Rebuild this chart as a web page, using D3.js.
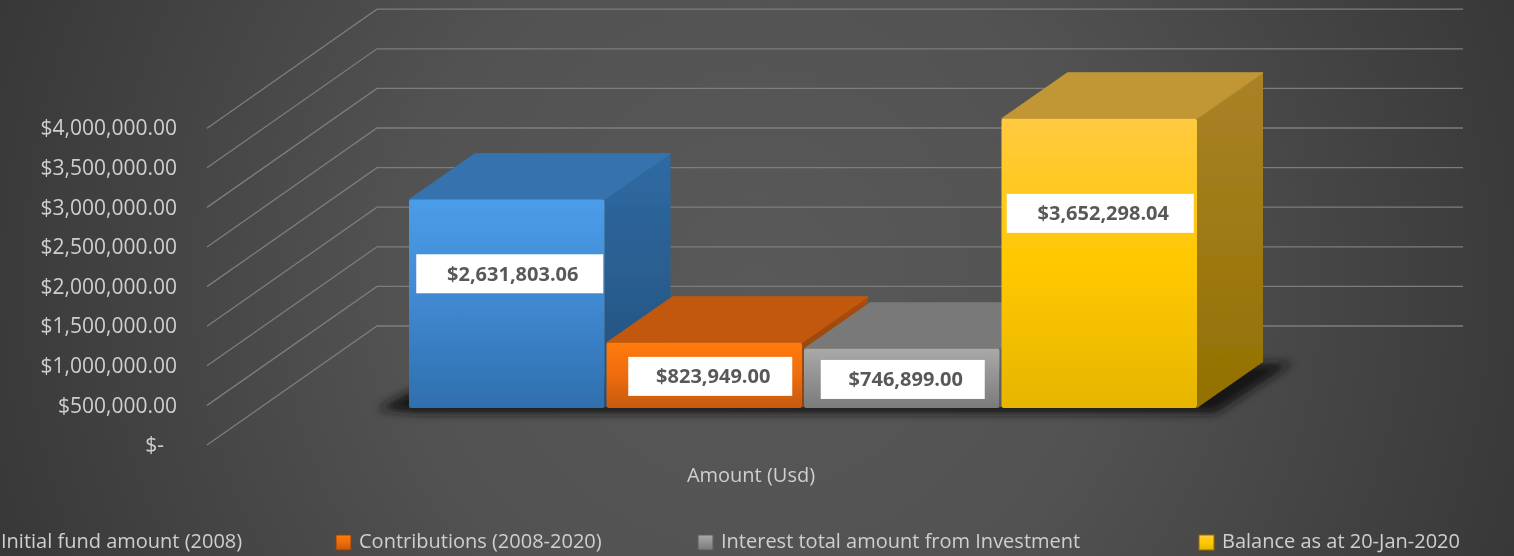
<!DOCTYPE html>
<html>
<head>
<meta charset="utf-8">
<script src="https://cdn.jsdelivr.net/npm/d3@7"></script>
<style>
  html, body { margin: 0; padding: 0; background: #444; overflow: hidden; }
  svg { display: block; }
  text { font-family: "Open Sans", sans-serif; }
</style>
</head>
<body>
<main></main>
<script>
// Datos
const categories = ["Initial fund amount (2008)", "Contributions (2008-2020)", "Interest total amount from Investment", "Balance as at 20-Jan-2020"];
const values = [2631803.06, 823949.00, 746899.00, 3652298.04];
const tickValues = [0, 500000, 1000000, 1500000, 2000000, 2500000, 3000000, 3500000, 4000000];
const tickLabels = ["$-", "$500,000.00", "$1,000,000.00", "$1,500,000.00", "$2,000,000.00", "$2,500,000.00", "$3,000,000.00", "$3,500,000.00", "$4,000,000.00"];
const axisTitle = "Amount (Usd)";

const [w, h] = [1514, 556];
const formato = d3.format("$,.2f");

// Colores de cada barra: frente (arriba, medio, abajo), tapa, lado (arriba, abajo)
const caras = [
  { f: ["#4a9de9", "#4088d0", "#2f6fae"], top: "#3672ae", s: ["#2f6aa3", "#23507a"] },
  { f: ["#ff7b10", "#ee6c0c", "#c55a09"], top: "#c1590b", s: ["#a84d08", "#8f4207"] },
  { f: ["#a9a9a9", "#929292", "#7b7b7b"], top: "#797979", s: ["#6a6a6a", "#5c5c5c"] },
  { f: ["#ffca40", "#ffc800", "#e6b500"], top: "#c19736", s: ["#a98227", "#937100"] }
];

// Colocación de las etiquetas respecto al centro de cada barra
const etiquetas = [
  { dx: 3, dy: -30, w: 187 },
  { dx: 6, dy: 1, w: 164 },
  { dx: 1, dy: 1, w: 164 },
  { dx: 1, dy: -50, w: 187 }
];

const svg = d3.select("main").append("svg").attr("width", w).attr("height", h);
const defs = svg.append("defs");

// Fondo
const bg = defs.append("radialGradient").attr("id", "bg")
  .attr("gradientUnits", "userSpaceOnUse")
  .attr("cx", 757).attr("cy", 278).attr("r", 800);
bg.append("stop").attr("offset", "0").attr("stop-color", "#595959");
bg.append("stop").attr("offset", "0.45").attr("stop-color", "#525252");
bg.append("stop").attr("offset", "1").attr("stop-color", "#383838");

svg.append("rect").attr("width", w).attr("height", h).attr("fill", "url(#bg)");

// Filtros: un desenfoque ligero y el de la sombra
defs.append("filter").attr("id", "soft").attr("x", "-2%").attr("y", "-2%").attr("width", "104%").attr("height", "104%")
  .append("feGaussianBlur").attr("stdDeviation", 0.55);
defs.append("filter").attr("id", "sombra").attr("x", "-10%").attr("y", "-30%").attr("width", "120%").attr("height", "160%")
  .append("feGaussianBlur").attr("stdDeviation", 5);

// Degradados de las barras
caras.forEach((c, i) => {
  const f = defs.append("linearGradient").attr("id", "front" + i).attr("x1", 0).attr("y1", 0).attr("x2", 0).attr("y2", 1);
  f.append("stop").attr("offset", "0").attr("stop-color", c.f[0]);
  f.append("stop").attr("offset", "0.5").attr("stop-color", c.f[1]);
  f.append("stop").attr("offset", "1").attr("stop-color", c.f[2]);
  const s = defs.append("linearGradient").attr("id", "side" + i).attr("x1", 0).attr("y1", 0).attr("x2", 0).attr("y2", 1);
  s.append("stop").attr("offset", "0").attr("stop-color", c.s[0]);
  s.append("stop").attr("offset", "1").attr("stop-color", c.s[1]);
});

const root = svg.append("g").attr("filter", "url(#soft)");

// Escalas
const yAxisScale = d3.scaleLinear().domain([0, 4000000]).range([445, 128.2]);
const altura = (v) => yAxisScale(0) - yAxisScale(v);
const xScale = d3.scaleBand().domain(categories).range([408, 1198]).paddingInner(0);

// Proyección: desplazamiento de la pared y de la profundidad de las barras
const pared = { dx: 170, dy: -119, left: 207, right: 1463 };
const fondo = { dx: 66, dy: -46, base: 408 };

// Rejilla
const linea = d3.line();
root.append("g").selectAll("path")
  .data(tickValues)
  .enter()
  .append("path")
  .attr("d", (t) => {
    const y = yAxisScale(t);
    return linea([[pared.left, y], [pared.left + pared.dx, y + pared.dy], [pared.right, y + pared.dy]]);
  })
  .attr("fill", "none")
  .attr("stroke", "#7d7d7d")
  .attr("stroke-width", 1.3);

// Eje Y
const ejeY = d3.axisLeft(yAxisScale)
  .tickValues(tickValues)
  .tickSize(0)
  .tickPadding(0)
  .tickFormat((d, i) => tickLabels[i]);

const gEje = root.append("g")
  .attr("transform", "translate(177,0)")
  .call(ejeY);
gEje.select(".domain").remove();
gEje.selectAll("text")
  .attr("font-size", 21)
  .attr("fill", "#cfcfcf")
  .style("font-family", '"Open Sans", sans-serif')
  .attr("dx", (d) => d === 0 ? -13 : 0);

// Sombra de las barras en el suelo
const x0 = xScale(categories[0]);
const x1 = xScale(categories[3]) + xScale.bandwidth();
root.append("path")
  .attr("d", linea([
    [x0 - 30, fondo.base + 1], [x0 + 10, fondo.base - 20], [x1 + fondo.dx + 28, fondo.base + fondo.dy + 1],
    [x1 + 18, fondo.base + 5], [x1 - 60, fondo.base + 5], [x0 + 10, fondo.base + 5]
  ]) + "Z")
  .attr("fill", "#141414")
  .attr("filter", "url(#sombra)");

// Barras
const barras = root.append("g").selectAll("g")
  .data(values)
  .enter()
  .append("g");

barras.append("path")   // lado
  .attr("d", (d, i) => {
    const xr = xScale(categories[i]) + xScale.bandwidth() - 1;
    const yt = fondo.base - altura(d);
    return linea([[xr, yt], [xr + fondo.dx, yt + fondo.dy], [xr + fondo.dx, fondo.base + fondo.dy], [xr, fondo.base]]) + "Z";
  })
  .attr("fill", (d, i) => `url(#side${i})`);

barras.append("path")   // tapa
  .attr("d", (d, i) => {
    const xl = xScale(categories[i]) + 1;
    const xr = xScale(categories[i]) + xScale.bandwidth() - 1;
    const yt = fondo.base - altura(d);
    return linea([[xl, yt], [xl + fondo.dx, yt + fondo.dy], [xr + fondo.dx, yt + fondo.dy], [xr, yt]]) + "Z";
  })
  .attr("fill", (d, i) => caras[i].top)
  .attr("stroke", (d, i) => caras[i].top)
  .attr("stroke-width", 1)
  .attr("stroke-linejoin", "round");

barras.append("rect")   // frente
  .attr("x", (d, i) => xScale(categories[i]) + 1)
  .attr("y", (d) => fondo.base - altura(d))
  .attr("width", xScale.bandwidth() - 2)
  .attr("height", (d) => altura(d))
  .attr("rx", 2)
  .attr("fill", (d, i) => `url(#front${i})`);

// Etiquetas de datos
const labelGroup = root.append("g").selectAll("g")
  .data(values)
  .enter()
  .append("g")
  .attr("transform", (d, i) => {
    const cx = xScale(categories[i]) + xScale.bandwidth() / 2 + etiquetas[i].dx;
    const cy = fondo.base - altura(d) / 2 + etiquetas[i].dy;
    return `translate(${cx},${cy})`;
  });

labelGroup.append("rect")
  .attr("x", (d, i) => -etiquetas[i].w / 2)
  .attr("y", -19.5)
  .attr("width", (d, i) => etiquetas[i].w)
  .attr("height", 39)
  .attr("fill", "#fff");

labelGroup.append("text")
  .attr("x", 3)
  .attr("y", 7)
  .attr("text-anchor", "middle")
  .attr("font-size", 20)
  .attr("font-weight", 700)
  .attr("fill", "#595959")
  .text((d) => formato(d));

// Título del eje
root.append("text")
  .attr("x", 751)
  .attr("y", 482)
  .attr("text-anchor", "middle")
  .attr("font-size", 20)
  .attr("fill", "#cfcfcf")
  .text(axisTitle);

// Leyenda
const leyendaX = [1, 359, 721, 1222];
const leyenda = root.append("g").selectAll("g")
  .data(categories)
  .enter()
  .append("g");

leyenda.append("rect")
  .attr("x", (d, i) => leyendaX[i] - 23)
  .attr("y", 535)
  .attr("width", 15)
  .attr("height", 15)
  .attr("fill", (d, i) => `url(#front${i})`)
  .attr("stroke", (d, i) => caras[i].s[1])
  .attr("stroke-width", 1);

leyenda.append("text")
  .attr("x", (d, i) => leyendaX[i])
  .attr("y", 548)
  .attr("font-size", 20)
  .attr("fill", "#cfcfcf")
  .text((d) => d);
</script>
</body>
</html>
